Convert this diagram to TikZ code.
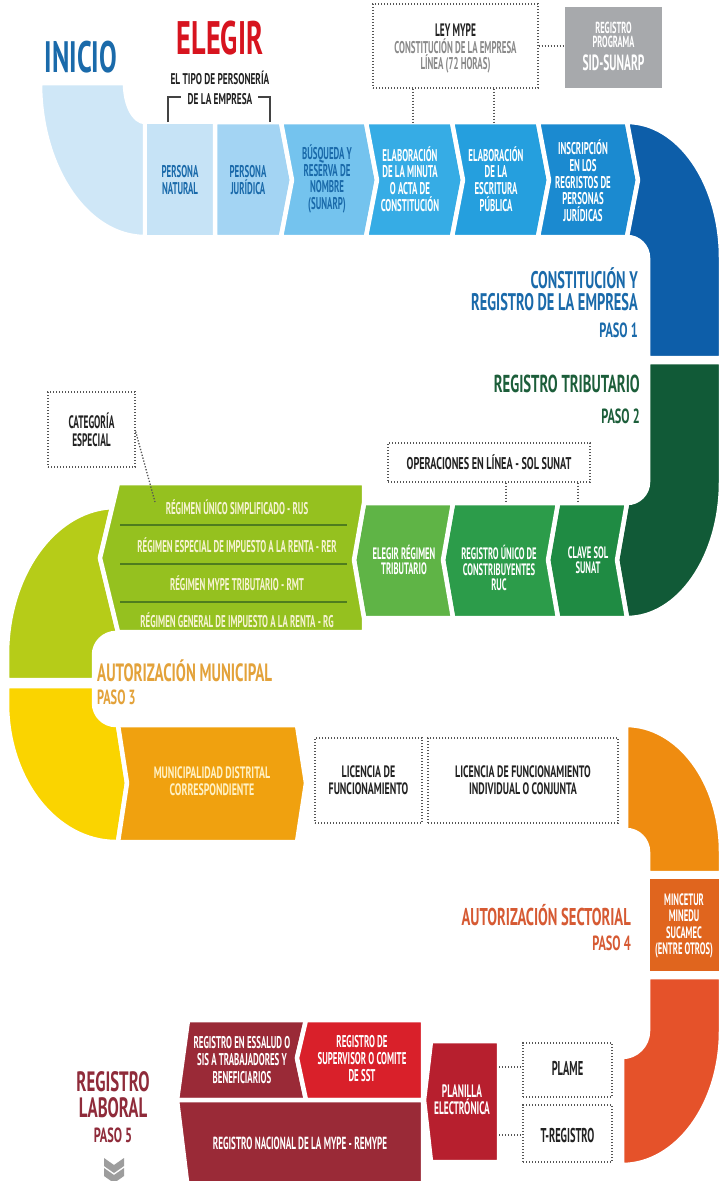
\documentclass[tikz,border=0pt]{standalone}
\usepackage{fontspec}
\newfontfamily\cf{PT Sans}[FakeStretch=0.6]
\newfontfamily\cn{PT Sans}[FakeStretch=0.52]
\newcommand\fsz[2]{\fontsize{#1}{#2}\selectfont}
% palette
\definecolor{cInicio}{HTML}{CFE7F7}
\definecolor{cNat}{HTML}{C6E3F6}
\definecolor{cJur}{HTML}{A3D4F3}
\definecolor{cBus}{HTML}{74C3EE}
\definecolor{cMin}{HTML}{36ACE5}
\definecolor{cEsc}{HTML}{259FDE}
\definecolor{cIns}{HTML}{1B8AD0}
\definecolor{cBlue}{HTML}{0D5EA9}
\definecolor{tBlue}{HTML}{1A6AAA}
\definecolor{cGreenD}{HTML}{115A37}
\definecolor{cClave}{HTML}{1F8B43}
\definecolor{cRuc}{HTML}{2C9C4A}
\definecolor{cElegir}{HTML}{5FB446}
\definecolor{cReg}{HTML}{95C11F}
\definecolor{cRegLine}{HTML}{4F7D1E}
\definecolor{cLime}{HTML}{B6CC18}
\definecolor{cYellow}{HTML}{FAD400}
\definecolor{cMuni}{HTML}{F0A10F}
\definecolor{cOrange}{HTML}{EF8C10}
\definecolor{cMinc}{HTML}{E0651E}
\definecolor{cRedOr}{HTML}{E5522A}
\definecolor{cPlan}{HTML}{B71F2E}
\definecolor{cSST}{HTML}{D9202A}
\definecolor{cMaroon}{HTML}{9A2A37}
\definecolor{tMaroon}{HTML}{8F2B3A}
\definecolor{tGreen}{HTML}{1C5E3A}
\definecolor{tGold}{HTML}{E3A23A}
\definecolor{tSect}{HTML}{D65A33}
\definecolor{tRed}{HTML}{D7141F}
\definecolor{cGrayBox}{HTML}{A7A9AC}
\definecolor{tGray}{HTML}{8A8A8A}
\definecolor{dark}{HTML}{222222}
\definecolor{dotc}{HTML}{555555}
\definecolor{cArrow}{HTML}{9D9D9D}
\definecolor{tCream}{HTML}{F6F3D2}
\definecolor{tMuni}{HTML}{FFF1C4}

\tikzset{
  seg/.style={draw=white, line width=4.5pt, line join=round},
  lbl/.style={align=center, inner sep=0pt, text=white, font=\cn\bfseries\fsz{17}{16.7}},
  dotbox/.style={draw=dotc, line width=1.3pt, dash pattern=on 1.3pt off 1.7pt, inner sep=0pt},
  dotln/.style={draw=dotc, line width=1.3pt, dash pattern=on 1.3pt off 1.7pt},
  bracket/.style={draw=dark!85, line width=1.3pt},
}

\begin{document}
\begin{tikzpicture}[x=1pt,y=-1pt]
\useasboundingbox (0,0) rectangle (718,1181);
\fill[white] (0,0) rectangle (718,1181);

% ---------- PASO 1: constitucion ----------
\path[seg, fill=cInicio] (40,83) -- (125,83) arc[start angle=180, end angle=90, x radius=20, y radius=39]
  -- (145,237) arc[start angle=90, end angle=180, x radius=105, y radius=154] -- cycle;
\path[seg, fill=cNat] (145,122) -- (215,122) -- (215,237) -- (145,237) -- cycle;
\path[seg, fill=cJur] (215,122) -- (281,122) -- (292,180) -- (281,237) -- (215,237) -- cycle;
\path[seg, fill=cBus] (281,122) -- (366,122) -- (377,180) -- (366,237) -- (281,237) -- (292,180) -- cycle;
\path[seg, fill=cMin] (366,122) -- (452,122) -- (463,180) -- (452,237) -- (366,237) -- (377,180) -- cycle;
\path[seg, fill=cEsc] (452,122) -- (538,122) -- (549,180) -- (538,237) -- (452,237) -- (463,180) -- cycle;
\path[seg, fill=cIns] (538,122) -- (627,122) -- (638,180) -- (627,237) -- (538,237) -- (549,180) -- cycle;
\path[seg, fill=cBlue] (627,122) -- (638,180) -- (627,237) arc[start angle=-90, end angle=0, radius=21]
  -- (648,358) -- (721,358) -- (721,258) arc[start angle=0, end angle=-90, x radius=94, y radius=136] -- cycle;

% ---------- PASO 2: registro tributario ----------
\path[seg, fill=cGreenD] (648,362) -- (721,362) -- (721,482) arc[start angle=0, end angle=90, x radius=94, y radius=136]
  -- (617,560) -- (627,503) arc[start angle=90, end angle=0, radius=21] -- cycle;
\path[seg, fill=cClave] (558,503) -- (627,503) -- (617,560) -- (627,618) -- (558,618) -- (548,560) -- cycle;
\path[seg, fill=cRuc] (453,503) -- (558,503) -- (548,560) -- (558,618) -- (453,618) -- (443,560) -- cycle;
\path[seg, fill=cElegir] (364,503) -- (453,503) -- (443,560) -- (453,618) -- (364,618) -- (354,560) -- cycle;
\path[seg, fill=cLime] (112,507) -- (100,558) -- (118,632) -- (116,633) arc[start angle=-90, end angle=-180, radius=22]
  -- (94,680) -- (7,680) -- (7,655) arc[start angle=180, end angle=270, x radius=109, y radius=148] -- cycle;
\path[seg, fill=cReg] (118,483) -- (364,483) -- (364,503) -- (354,560) -- (364,618) -- (364,632) -- (118,632) -- (100,558) -- cycle;
\foreach \yy in {525,564,602} \draw[cRegLine, line width=1.2pt] (120,\yy) -- (347,\yy);

% ---------- PASO 3: autorizacion municipal ----------
\path[seg, fill=cYellow] (7,686) -- (94,686) -- (94,703) arc[start angle=180, end angle=90, radius=22]
  -- (118,725) -- (127,783) -- (118,842) -- (116,842) arc[start angle=90, end angle=180, x radius=109, y radius=139] -- cycle;
\path[seg, fill=cMuni] (118,725) -- (297,725) -- (306,783) -- (297,842) -- (118,842) -- (127,783) -- cycle;

% ---------- PASO 4: autorizacion sectorial ----------
\path[seg, fill=cOrange] (626,725) -- (626,830) arc[start angle=-90, end angle=0, radius=22]
  -- (648,873) -- (721,873) -- (721,852) arc[start angle=0, end angle=-90, x radius=95, y radius=127] -- cycle;
\path[seg, fill=cMinc] (648,877) rectangle (721,973);
\path[seg, fill=cRedOr] (648,977) -- (721,977) -- (721,1031) arc[start angle=0, end angle=90, x radius=99, y radius=134]
  -- (622,1057) arc[start angle=90, end angle=0, radius=26] -- cycle;

% ---------- PASO 5: registro laboral ----------
\path[seg, fill=cMaroon] (188,1020) -- (306,1020) -- (297,1058) -- (306,1100) -- (177,1100) -- cycle;
\path[seg, fill=cSST] (306,1020) -- (423,1020) -- (423,1100) -- (306,1100) -- (297,1058) -- cycle;
\path[seg, fill=cMaroon] (177,1100) -- (423,1100) -- (423,1190) -- (188,1190) -- cycle;
\path[seg, fill=cPlan] (431,1041) -- (499,1041) -- (499,1162) -- (431,1162) -- (424,1100) -- cycle;

% ---------- headings ----------
\node[text=tBlue, font=\cf\bfseries\fsz{44}{44}, inner sep=0pt] (inicio) at (81,57) {INICIO};
\node[text=tRed, font=\cf\bfseries\fsz{47}{47}, inner sep=0pt] (elegir) at (220,38) {ELEGIR};
\node[text=dark, font=\cf\bfseries\fsz{15.5}{20}, align=center, inner sep=0pt] (tipo) at (220,88) {EL TIPO DE PERSONERÍA\\DE LA EMPRESA};
\coordinate (natTop) at (168,122);
\coordinate (jurTop) at (270,122);
\draw[bracket] (natTop) -- (natTop |- 0,97) -- (181,97);
\draw[bracket] (jurTop) -- (jurTop |- 0,97) -- (258,97);

\node[dotbox, minimum width=165, minimum height=84] (ley) at (455.5,46) {};
\node[text=dark, font=\cn\bfseries\fsz{18}{16}, inner sep=0pt] (leyT) at (455.5,30) {LEY MYPE};
\node[text=tGray, font=\cn\bfseries\fsz{17}{16.5}, align=center, inner sep=0pt] (leyS) at (455.5,56) {CONSTITUCIÓN DE LA EMPRESA\\LÍNEA (72 HORAS)};
\node[fill=cGrayBox, minimum width=97, minimum height=81, inner sep=0pt] (sid) at (613.5,47.5) {};
\node[text=white, font=\cn\bfseries\fsz{16}{14.5}, align=center, inner sep=0pt] (sidA) at (613.5,35) {REGISTRO\\PROGRAMA};
\node[text=white, font=\cn\bfseries\fsz{22}{19}, inner sep=0pt] (sidB) at (613.5,63) {SID-SUNARP};
\draw[dotln] (ley.east) -- (ley.east -| sid.west);
\coordinate (minTop) at (413,122);
\coordinate (escTop) at (494,122);
\draw[dotln] (ley.south -| minTop) -- (minTop);
\draw[dotln] (ley.south -| escTop) -- (escTop);

% ---------- labels, paso 1 ----------
\node[lbl, text=tBlue] (nat) at (180,180) {PERSONA\\NATURAL};
\node[lbl, text=tBlue] (jur) at (248,180) {PERSONA\\JURÍDICA};
\node[lbl, text=tBlue] (bus) at (327,179) {BÚSQUEDA Y\\RESERVA DE\\NOMBRE\\(SUNARP)};
\node[lbl] (minu) at (410,179) {ELABORACIÓN\\DE LA MINUTA\\O ACTA DE\\CONSTITUCIÓN};
\node[lbl] (escr) at (496,179) {ELABORACIÓN\\DE LA\\ESCRITURA\\PÚBLICA};
\node[lbl] (insc) at (583,181) {INSCRIPCIÓN\\EN LOS\\REGRISTOS DE\\PERSONAS\\JURÍDICAS};

\node[text=tBlue, font=\cf\bfseries\fsz{24}{22}, align=right, anchor=east, inner sep=0pt] (p1t) at (638,289) {CONSTITUCIÓN Y\\REGISTRO DE LA EMPRESA};
\node[text=tBlue, font=\cf\bfseries\fsz{20.5}{20}, anchor=east, inner sep=0pt] (p1) at (638,330) {PASO 1};

% ---------- labels, paso 2 ----------
\node[text=tGreen, font=\cf\bfseries\fsz{24.5}{24}, anchor=east, inner sep=0pt] (p2t) at (640,384) {REGISTRO TRIBUTARIO};
\node[text=tGreen, font=\cf\bfseries\fsz{20.5}{20}, anchor=east, inner sep=0pt] (p2) at (640,416) {PASO 2};

\node[dotbox, minimum width=202, minimum height=39] (ops) at (489,462.5) {};
\node[text=dark, font=\cf\bfseries\fsz{17}{17}, inner sep=0pt] (opsT) at (489,462.5) {OPERACIONES EN LÍNEA - SOL SUNAT};
\coordinate (rucTop) at (506,503);
\coordinate (claveTop) at (578,503);
\draw[dotln] (ops.south -| rucTop) -- (rucTop);
\draw[dotln] (ops.south -| claveTop) -- (claveTop);

\node[lbl, font=\cn\bfseries\fsz{16.5}{15.5}] (eleg) at (404,560) {ELEGIR RÉGIMEN\\TRIBUTARIO};
\node[lbl, font=\cn\bfseries\fsz{16.5}{15.5}] (ruc) at (499,568) {REGISTRO ÚNICO DE\\CONSTRIBUYENTES\\RUC};
\node[lbl, font=\cn\bfseries\fsz{16.5}{15.5}] (clave) at (588,560) {CLAVE SOL\\SUNAT};

\node[lbl, text=tCream, font=\cn\bfseries\fsz{17}{15}] (rus) at (237,507) {RÉGIMEN ÚNICO SIMPLIFICADO - RUS};
\node[lbl, text=tCream, font=\cn\bfseries\fsz{17}{15}] (rer) at (237,545) {RÉGIMEN ESPECIAL DE IMPUESTO A LA RENTA - RER};
\node[lbl, text=tCream, font=\cn\bfseries\fsz{17}{15}] (rmt) at (237,583) {RÉGIMEN MYPE TRIBUTARIO - RMT};
\node[lbl, text=tCream, font=\cn\bfseries\fsz{17}{15}] (rg) at (237,620) {RÉGIMEN GENERAL DE IMPUESTO A LA RENTA - RG};

\node[dotbox, minimum width=87, minimum height=75] (cat) at (91.5,429.5) {};
\node[text=dark, font=\cn\bfseries\fsz{18}{17.5}, align=center, inner sep=0pt] (catT) at (91.5,430) {CATEGORÍA\\ESPECIAL};
\coordinate (rusTip) at (155,502);
\draw[dotln] (cat.east) ++(0,2) -- (rusTip);

% ---------- labels, paso 3 ----------
\node[text=tGold, font=\cf\bfseries\fsz{25}{24}, anchor=west, inner sep=0pt] (p3t) at (97,671) {AUTORIZACIÓN MUNICIPAL};
\node[text=tGold, font=\cf\bfseries\fsz{20.5}{20}, anchor=west, inner sep=0pt] (p3) at (97,697) {PASO 3};
\node[lbl, text=tMuni, font=\cf\bfseries\fsz{16.5}{17}] (muni) at (212,781) {MUNICIPALIDAD DISTRITAL\\CORRESPONDIENTE};
\node[dotbox, minimum width=107, minimum height=85] (lic1) at (368.5,780.5) {};
\node[lbl, text=dark, font=\cf\bfseries\fsz{16.5}{16.5}] (lic1T) at (368.5,780) {LICENCIA DE\\FUNCIONAMIENTO};
\node[dotbox, minimum width=190, minimum height=85] (lic2) at (523,780.5) {};
\node[lbl, text=dark, font=\cf\bfseries\fsz{16.5}{16.5}] (lic2T) at (523,780) {LICENCIA DE FUNCIONAMIENTO\\INDIVIDUAL O CONJUNTA};

% ---------- labels, paso 4 ----------
\node[text=tSect, font=\cf\bfseries\fsz{24.3}{25}, anchor=east, inner sep=0pt] (p4t) at (631,915) {AUTORIZACIÓN SECTORIAL};
\node[text=tSect, font=\cf\bfseries\fsz{20.5}{20}, anchor=east, inner sep=0pt] (p4) at (631,943) {PASO 4};
\node[lbl, font=\cn\bfseries\fsz{16.5}{16.5}] (minc) at (684,926) {MINCETUR\\MINEDU\\SUCAMEC\\(ENTRE OTROS)};

% ---------- labels, paso 5 ----------
\node[text=tMaroon, font=\cf\bfseries\fsz{28}{26}, align=center, inner sep=0pt] (p5t) at (113,1095) {REGISTRO\\LABORAL};
\node[text=tMaroon, font=\cf\bfseries\fsz{20.5}{20}, inner sep=0pt] (p5) at (113,1135) {PASO 5};
\fill[cArrow] (104,1158) -- (114,1165) -- (124,1158) -- (124,1166) -- (114,1173) -- (104,1166) -- cycle;
\fill[cArrow] (104,1168) -- (114,1175) -- (124,1168) -- (124,1176) -- (114,1183) -- (104,1176) -- cycle;

\node[lbl, font=\cn\bfseries\fsz{17}{17.5}] (ess) at (242,1060) {REGISTRO EN ESSALUD O\\SIS A TRABAJADORES Y\\BENEFICIARIOS};
\node[lbl, font=\cn\bfseries\fsz{17}{17}] (sst) at (362,1059) {REGISTRO DE\\SUPERVISOR O COMITE\\DE SST};
\node[lbl, font=\cn\bfseries\fsz{17.5}{15}] (remy) at (300,1143) {REGISTRO NACIONAL DE LA MYPE - REMYPE};
\node[lbl, font=\cn\bfseries\fsz{18}{17}] (plan) at (462,1100) {PLANILLA\\ELECTRÓNICA};

\node[dotbox, minimum width=89, minimum height=54] (plame) at (567.5,1070) {};
\node[text=dark, font=\cn\bfseries\fsz{20}{18}, inner sep=0pt] (plameT) at (567.5,1068) {PLAME};
\node[dotbox, minimum width=89, minimum height=57] (treg) at (567.5,1133.5) {};
\node[text=dark, font=\cn\bfseries\fsz{20}{18}, inner sep=0pt] (tregT) at (567.5,1135) {T-REGISTRO};
\coordinate (pl1) at (499,1067);
\coordinate (pl2) at (499,1135);
\draw[dotln] (pl1) -- (pl1 -| plame.west);
\draw[dotln] (pl2) -- (pl2 -| treg.west);
\end{tikzpicture}
\end{document}
